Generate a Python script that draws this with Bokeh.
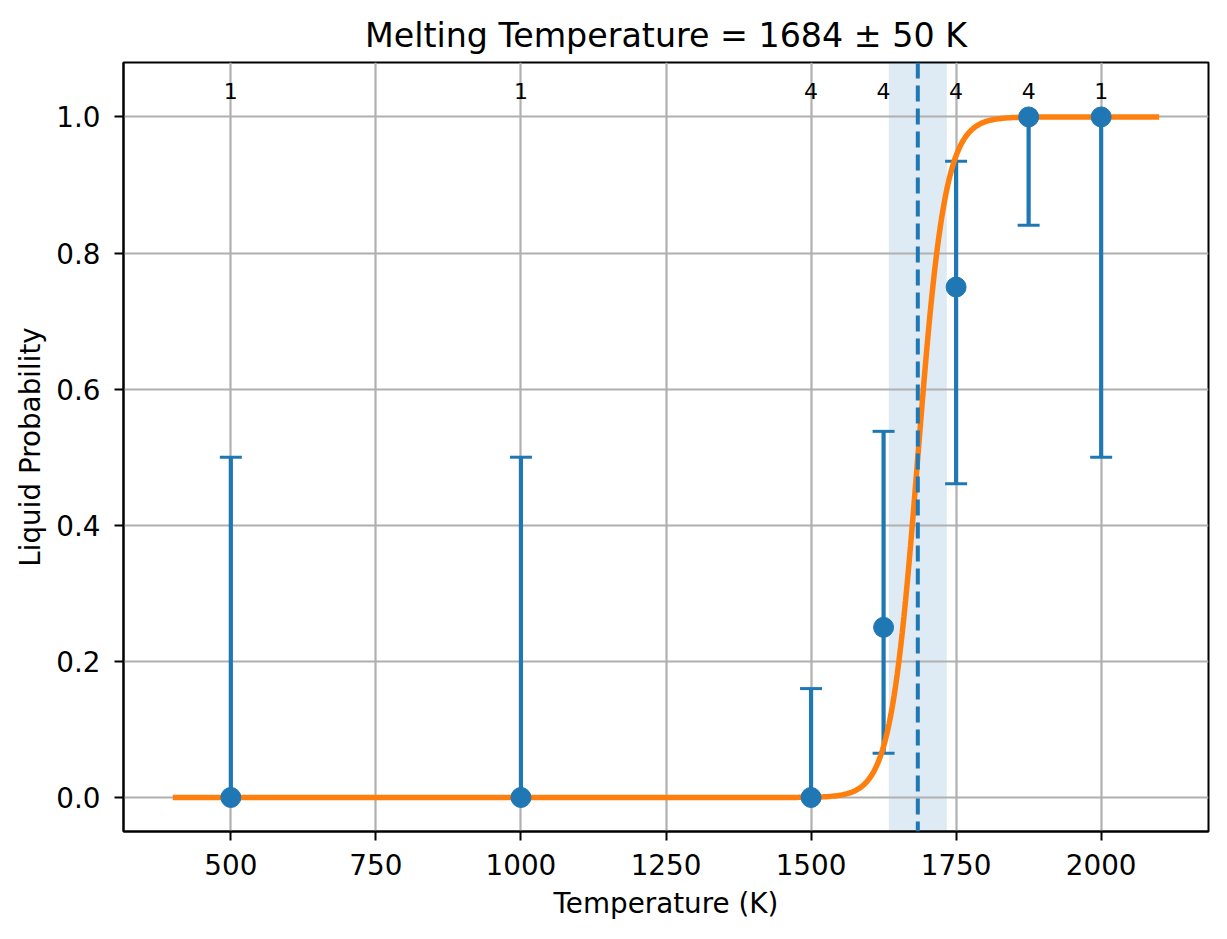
import numpy as np
from bokeh.plotting import figure
from bokeh.models import FixedTicker, PrintfTickFormatter, BoxAnnotation, Span, ColumnDataSource, Range1d
from bokeh.core.properties import value
from bokeh.embed import file_html
from bokeh.resources import INLINE

# ---- data ----
temps = [500, 1000, 1500, 1625, 1750, 1875, 2000]
probs = [0.0, 0.0, 0.0, 0.25, 0.75, 1.0, 1.0]
lower = [0.0, 0.0, 0.0, 0.065, 0.461, 0.841, 0.5]
upper = [0.5, 0.5, 0.16, 0.538, 0.935, 1.0, 1.0]
counts = ["1", "1", "4", "4", "4", "4", "1"]

melt_T = 1684
melt_err = 50
fit_width = 23.5
fit_T_min, fit_T_max = 400, 2100

x_ticks = [500, 750, 1000, 1250, 1500, 1750, 2000]
y_ticks = [0.0, 0.2, 0.4, 0.6, 0.8, 1.0]

# fitted logistic curve (model evaluation)
fit_T = np.linspace(fit_T_min, fit_T_max, 600)
fit_p = 1.0 / (1.0 + np.exp(-(fit_T - melt_T) / fit_width))

C0 = "#1f77b4"
C1 = "#ff7f0e"
FONT = "DejaVu Sans"

p = figure(width=1211, height=923, output_backend="svg", toolbar_location=None,
           x_range=Range1d(315, 2185), y_range=Range1d(-0.05, 1.08),
           min_border_left=123, min_border_right=3, min_border_top=62, min_border_bottom=92,
           title=f"Melting Temperature = {melt_T} ± {melt_err} K")

p.title.text_font = FONT
p.title.text_font_size = "33.3px"
p.title.text_font_style = "normal"
p.title.align = "center"
p.title.text_color = "black"
p.title.standoff = 16

p.outline_line_color = "black"
p.outline_line_width = 2
p.outline_line_alpha = 1

for ax in (p.xaxis[0], p.yaxis[0]):
    ax.major_label_text_font = FONT
    ax.major_label_text_font_size = "27.8px"
    ax.major_label_text_color = "black"
    ax.axis_label_text_font = FONT
    ax.axis_label_text_font_size = "27.8px"
    ax.axis_label_text_font_style = "normal"
    ax.axis_label_text_color = "black"
    ax.major_tick_out = 9
    ax.major_tick_in = 0
    ax.major_tick_line_width = 2
    ax.major_tick_line_color = "black"
    ax.minor_tick_line_color = None
    ax.axis_line_width = 2
    ax.axis_line_color = "black"

p.xaxis.axis_label = "Temperature (K)"
p.yaxis.axis_label = "Liquid Probability"
p.xaxis.ticker = FixedTicker(ticks=x_ticks)
p.yaxis.ticker = FixedTicker(ticks=y_ticks)
p.yaxis.formatter = PrintfTickFormatter(format="%.1f")
p.xaxis.major_label_standoff = 13
p.yaxis.major_label_standoff = 14
p.xaxis.axis_label_standoff = 9
p.yaxis.axis_label_standoff = 6

p.xgrid.ticker = FixedTicker(ticks=x_ticks)
p.ygrid.ticker = FixedTicker(ticks=y_ticks)
for g in (p.xgrid[0], p.ygrid[0]):
    g.grid_line_color = "#b0b0b0"
    g.grid_line_width = 2.2
    g.grid_line_alpha = 1

# uncertainty band and melting temperature line
band = BoxAnnotation(left=melt_T - melt_err, right=melt_T + melt_err,
                     fill_color=C0, fill_alpha=0.15, line_color=None, level="image")
p.add_layout(band)
vline = Span(location=melt_T, dimension="height", line_color=C0, line_width=4,
             line_dash="16 7")
p.add_layout(vline)

src = ColumnDataSource(dict(t=temps, p=probs, lo=lower, hi=upper, n=counts,
                            ny=[1.038] * len(temps)))

# error bars
p.segment(x0="t", y0="lo", x1="t", y1="hi", source=src, line_color=C0, line_width=4.2)
p.dash(x="t", y="hi", source=src, size=22, line_color=C0, line_width=3)
p.dash(x="t", y="lo", source=src, size=22, line_color=C0, line_width=3)

# fit curve
p.line(fit_T, fit_p, line_color=C1, line_width=5.5)

# points
p.scatter(x="t", y="p", source=src, size=20, fill_color=C0, line_color=C0)

# counts
p.text(x="t", y="ny", text="n", source=src, text_align="center", text_baseline="alphabetic",
       text_font=value(FONT), text_font_size="22px", text_color="black")

open("out.html", "w").write(file_html(p, INLINE))
